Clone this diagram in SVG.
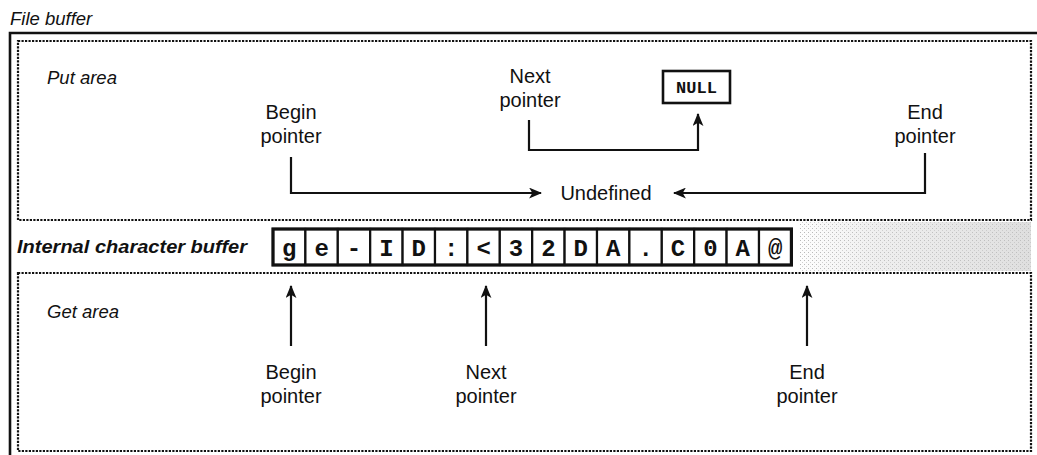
<svg xmlns="http://www.w3.org/2000/svg" width="1037" height="455" viewBox="0 0 1037 455">
<style>
.lbl{font-family:"Liberation Sans",Arial,sans-serif;font-size:20px;fill:#111;text-anchor:middle}
.ttl{font-family:"Liberation Sans",Arial,sans-serif;font-size:18.5px;font-style:italic;fill:#111}
.dot{fill:none;stroke:#111;stroke-width:2.2;stroke-dasharray:2.2 1.3}
.con{fill:none;stroke:#111;stroke-width:2.2}
.cell{fill:#fff;stroke:#111;stroke-width:2.2}
.ch{font-family:"Liberation Mono","Courier New",monospace;font-weight:bold;font-size:24px;fill:#111;text-anchor:middle}
</style>
<defs>
<marker id="ah" viewBox="0 0 12 10" refX="11" refY="5" markerWidth="13" markerHeight="11" markerUnits="userSpaceOnUse" orient="auto">
<path d="M0,0 L12,5 L0,10 L3,5 Z" fill="#111"/>
</marker>
<linearGradient id="noise" x1="0" x2="1" y1="0" y2="0">
<stop offset="0" stop-color="#d0d0d0" stop-opacity="0"/>
<stop offset="0.35" stop-color="#d0d0d0" stop-opacity="0.35"/>
<stop offset="1" stop-color="#c4c4c4" stop-opacity="0.55"/>
</linearGradient>
<pattern id="speck" width="4" height="4" patternUnits="userSpaceOnUse">
<rect width="4" height="4" fill="#fff"/>
<rect x="0" y="0" width="1" height="1" fill="#999"/>
<rect x="2" y="2" width="1" height="1" fill="#bbb"/>
</pattern>
</defs>
<rect width="1037" height="455" fill="#fff"/>
<g id="file-buffer">
<text class="ttl" x="10" y="25">File buffer</text>
<path d="M10,455 V33 H1037" fill="none" stroke="#111" stroke-width="2.6"/>
</g>
<g id="put-area">
<rect class="dot" x="18" y="41" width="1013" height="179"/>
<text class="ttl" x="47" y="84">Put area</text>
</g>
<g id="internal-buffer">
<rect x="800" y="222" width="231" height="49" fill="url(#speck)" opacity="0.7"/>
<rect x="795" y="222" width="236" height="49" fill="url(#noise)"/>
<text x="17" y="253" font-family="'Liberation Sans',Arial,sans-serif" font-size="18" font-weight="bold" font-style="italic" fill="#111" textLength="230" lengthAdjust="spacingAndGlyphs">Internal character buffer</text>
<g id="cells">
<rect class="cell" x="273" y="229" width="32.4" height="36"/>
<rect class="cell" x="305.4" y="229" width="32.4" height="36"/>
<rect class="cell" x="337.8" y="229" width="32.4" height="36"/>
<rect class="cell" x="370.2" y="229" width="32.4" height="36"/>
<rect class="cell" x="402.6" y="229" width="32.4" height="36"/>
<rect class="cell" x="435" y="229" width="32.4" height="36"/>
<rect class="cell" x="467.4" y="229" width="32.4" height="36"/>
<rect class="cell" x="499.8" y="229" width="32.4" height="36"/>
<rect class="cell" x="532.2" y="229" width="32.4" height="36"/>
<rect class="cell" x="564.6" y="229" width="32.4" height="36"/>
<rect class="cell" x="597" y="229" width="32.4" height="36"/>
<rect class="cell" x="629.4" y="229" width="32.4" height="36"/>
<rect class="cell" x="661.8" y="229" width="32.4" height="36"/>
<rect class="cell" x="694.2" y="229" width="32.4" height="36"/>
<rect class="cell" x="726.6" y="229" width="32.4" height="36"/>
<rect class="cell" x="759" y="229" width="32.4" height="36"/>
<rect x="273" y="229" width="518.4" height="36" fill="none" stroke="#111" stroke-width="3.2"/>
<text class="ch" x="289.2" y="256">g</text>
<text class="ch" x="321.6" y="256">e</text>
<text class="ch" x="354" y="256">-</text>
<text class="ch" x="386.4" y="256">I</text>
<text class="ch" x="418.8" y="256">D</text>
<text class="ch" x="451.2" y="256">:</text>
<text class="ch" x="483.6" y="256">&lt;</text>
<text class="ch" x="516" y="256">3</text>
<text class="ch" x="548.4" y="256">2</text>
<text class="ch" x="580.8" y="256">D</text>
<text class="ch" x="613.2" y="256">A</text>
<text class="ch" x="645.6" y="256">.</text>
<text class="ch" x="678" y="256">C</text>
<text class="ch" x="710.4" y="256">0</text>
<text class="ch" x="742.8" y="256">A</text>
<text class="ch" x="775.2" y="256">@</text>
</g>
</g>
<g id="get-area">
<rect class="dot" x="18" y="273" width="1013" height="178"/>
<text class="ttl" x="47" y="318">Get area</text>
</g>
<g id="put-begin-pointer">
<text class="lbl" x="291" y="119">Begin</text>
<text class="lbl" x="291" y="143">pointer</text>
</g>
<g id="put-next-pointer">
<text class="lbl" x="530" y="83">Next</text>
<text class="lbl" x="530" y="107">pointer</text>
</g>
<g id="null-box">
<rect x="663" y="71" width="67" height="32" fill="#fff" stroke="#111" stroke-width="2.6"/>
<text x="696.5" y="93" font-family="'Liberation Mono','Courier New',monospace" font-weight="bold" font-size="17" fill="#111" text-anchor="middle">NULL</text>
</g>
<g id="put-end-pointer">
<text class="lbl" x="925" y="119">End</text>
<text class="lbl" x="925" y="143">pointer</text>
</g>
<g id="undefined">
<text class="lbl" x="606" y="200">Undefined</text>
</g>
<g id="get-begin-pointer">
<text class="lbl" x="291" y="379">Begin</text>
<text class="lbl" x="291" y="403">pointer</text>
</g>
<g id="get-next-pointer">
<text class="lbl" x="486" y="379">Next</text>
<text class="lbl" x="486" y="403">pointer</text>
</g>
<g id="get-end-pointer">
<text class="lbl" x="807" y="379">End</text>
<text class="lbl" x="807" y="403">pointer</text>
</g>
<g id="connectors">
<path class="con" d="M291,157 V193 H541" marker-end="url(#ah)"/>
<path class="con" d="M925,153 V193 H674" marker-end="url(#ah)"/>
<path class="con" d="M529,120 V150 H698 V114" marker-end="url(#ah)"/>
<path class="con" d="M291,346 V286" marker-end="url(#ah)"/>
<path class="con" d="M486,346 V286" marker-end="url(#ah)"/>
<path class="con" d="M807,346 V286" marker-end="url(#ah)"/>
</g>
</svg>
